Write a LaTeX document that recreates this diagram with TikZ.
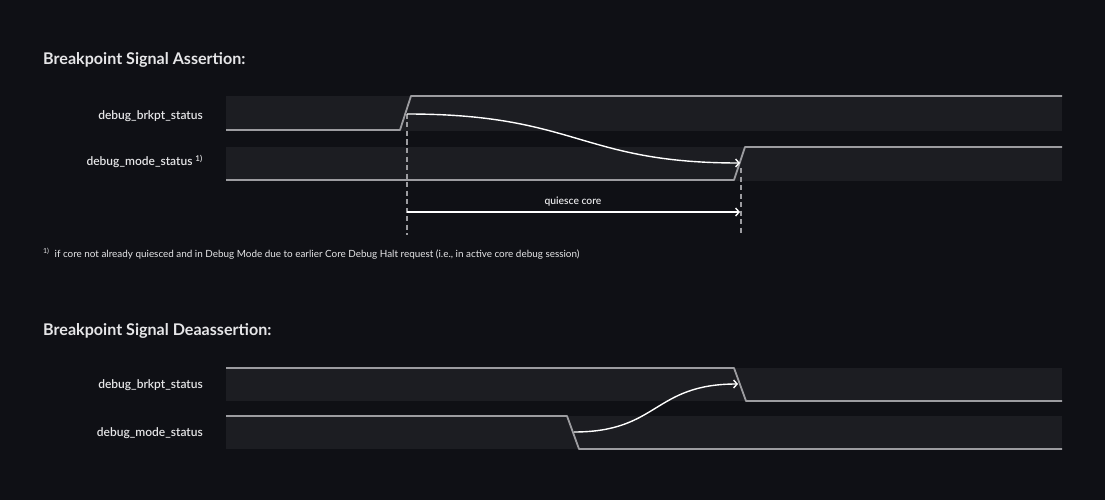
\documentclass[tikz,border=0pt]{standalone}
\usepackage{fontspec}
\setmainfont{Lato}
\newfontfamily\semifont{Lato}[UprightFont=* Semibold]
\usetikzlibrary{arrows.meta}

\definecolor{bgcol}{HTML}{0F1015}
\definecolor{bandcol}{HTML}{1C1D22}
\definecolor{wavecol}{HTML}{9C9CA0}
\definecolor{txtcol}{HTML}{E6E6E8}

\tikzset{
  band/.style={fill=bandcol},
  wave/.style={draw=wavecol, line width=1.8pt, line join=round},
  cause/.style={draw=white, line width=1.4pt, -{Straight Barb[length=3.5pt,width=8pt]}},
  marker/.style={draw=wavecol, line width=1.4pt, dash pattern=on 5pt off 3.5pt},
  signame/.style={anchor=east, inner sep=0pt, text=txtcol, font=\semifont\fontsize{12}{14}\selectfont},
  heading/.style={anchor=west, inner sep=0pt, text=txtcol, font=\fontsize{16.1}{19}\selectfont\bfseries},
  note/.style={inner sep=0pt, text=txtcol, font=\fontsize{9.9}{12}\selectfont},
}

\begin{document}
\begin{tikzpicture}[x=1pt, y=-1pt]
  \fill[bgcol] (0,0) rectangle (1105,500);
  \useasboundingbox (0,0) rectangle (1105,500);

  % assertion
  \node[heading] (titleA) at (43,60) {Breakpoint Signal Assertion:};
  \fill[band] (226,96) rectangle (1062,131);
  \fill[band] (226,147) rectangle (1062,181);
  \draw[wave] (226,130) -- (400,130) -- (411,96) -- (1062,96);
  \draw[wave] (226,180) -- (734,180) -- (745,147) -- (1062,147);
  \node[signame] (brkptA) at (203,116) {debug\_brkpt\_status};
  \node[signame] (modeA) at (203,161.5) {debug\_mode\_status \textsuperscript{1)}};

  \coordinate (riseA) at (407,114);
  \coordinate (haltA) at (740,163);
  \coordinate (markA) at (407,235);
  \coordinate (markB) at (741,235);
  \coordinate (markBtop) at (741,168);
  \draw[marker] (riseA) -- (markA);
  \draw[marker] (markBtop) -- (markB);
  \draw[cause] (riseA) .. controls +(170,0) and +(-160,0) .. (haltA);
  \draw[cause] (407,212) coordinate (spanL) -- (740,212) coordinate (spanR);
  \node[note, font=\semifont\fontsize{10.3}{12}\selectfont] (quiesce) at (573,201.5) {quiesce core};

  \node[note, anchor=west] (foot) at (43,254) {\textsuperscript{1)}\ \ if core not already quiesced and in Debug Mode due to earlier Core Debug Halt request (i.e., in active core debug session)};

  % deassertion
  \node[heading] (titleD) at (43,331) {Breakpoint Signal Deaassertion:};
  \fill[band] (226,368) rectangle (1062,401);
  \fill[band] (226,416) rectangle (1062,449);
  \draw[wave] (226,368) -- (734,368) -- (746,401) -- (1062,401);
  \draw[wave] (226,416) -- (567,416) -- (579,449) -- (1062,449);
  \node[signame] (brkptD) at (203,385) {debug\_brkpt\_status};
  \node[signame] (modeD) at (203,433) {debug\_mode\_status};

  \coordinate (fallD) at (574,432);
  \coordinate (dropD) at (738,384);
  \draw[cause] (fallD) .. controls +(85,0) and +(-85,0) .. (dropD);
\end{tikzpicture}
\end{document}
